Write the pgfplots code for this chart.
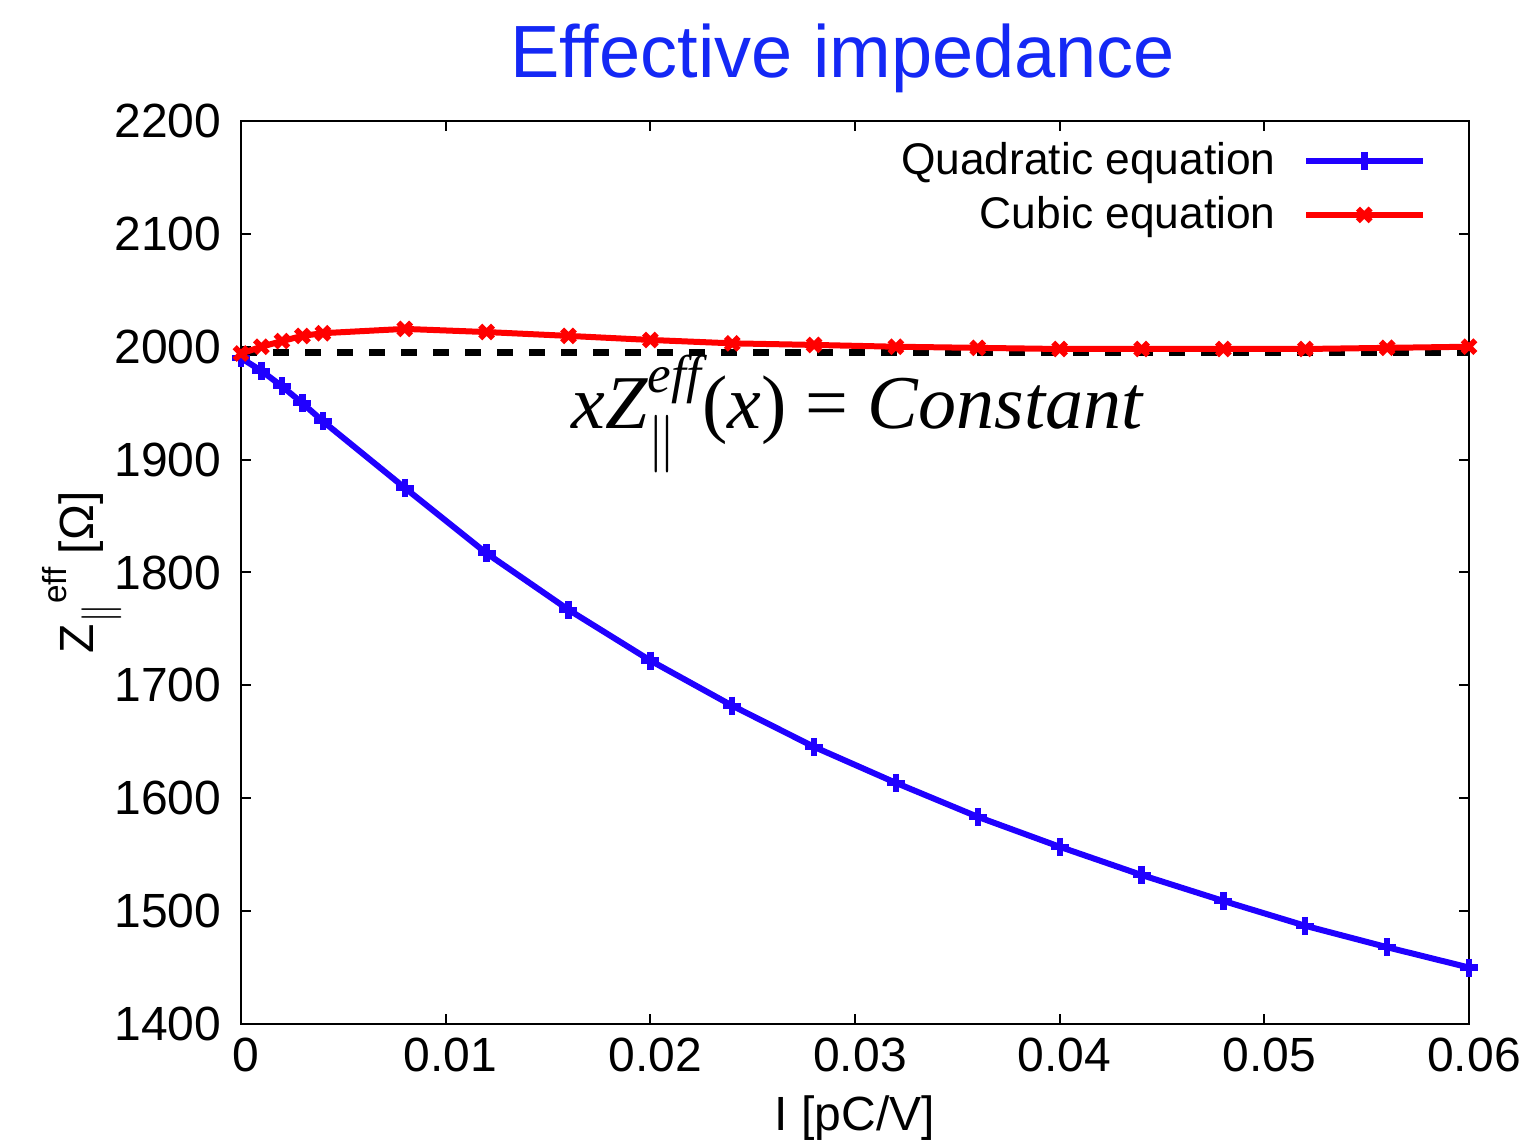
\documentclass[border=0pt]{standalone}
\usepackage{fontspec}
\setmainfont{Liberation Sans}
\newfontfamily\tms{Liberation Serif}
\usepackage{amsmath}
\usepackage{pgfplots}
\pgfplotsset{compat=1.18}

\definecolor{gpblue}{RGB}{32,0,255}
\definecolor{gpred}{RGB}{255,0,0}
\definecolor{titleblue}{RGB}{20,40,245}

% Effective impedance vs. I, from the two fits
\pgfplotstableread{
x      z
0      1990
0.001  1978.6
0.002  1965
0.003  1950
0.004  1934
0.008  1875
0.012  1817
0.016  1767
0.020  1722
0.024  1682
0.028  1645.5
0.032  1613.6
0.036  1583.5
0.040  1557
0.044  1532
0.048  1509
0.052  1487
0.056  1468
0.060  1450
}\quadratic

\pgfplotstableread{
x      z
0      1994
0.001  2000
0.002  2005
0.003  2009.6
0.004  2012
0.008  2015.8
0.012  2013
0.016  2009.6
0.020  2006
0.024  2003
0.028  2001.6
0.032  2000
0.036  1999
0.040  1998
0.044  1998
0.048  1998
0.052  1998
0.056  1999
0.060  2000
}\cubic

\begin{document}
\begin{tikzpicture}
\useasboundingbox (0,0) rectangle (457.8pt,344.1pt);
\begin{axis}[
  at={(72.3pt,36.9pt)}, anchor=south west,
  scale only axis, width=368.4pt, height=270.9pt,
  xmin=0, xmax=0.06, ymin=1400, ymax=2200,
  xtick={0,0.01,0.02,0.03,0.04,0.05,0.06},
  xticklabels={0,0.01,0.02,0.03,0.04,0.05,0.06},
  scaled x ticks=false,
  ytick={1400,1500,1600,1700,1800,1900,2000,2100,2200},
  /pgf/number format/1000 sep={},
  /pgf/number format/assume math mode=true,
  tick align=inside, major tick length=3pt, minor tick num=0,
  axis line style={line width=0.8pt},
  every tick/.style={black, line width=0.6pt},
  tick label style={font=\fontsize{14.4}{16}\selectfont},
  xticklabel style={xshift=1.5pt, yshift=-0.6pt},
  yticklabel style={xshift=-2.4pt},
  clip=false,
  legend plot pos=right,
  legend cell align=right,
  legend image code/.code={\draw[mark repeat=2, mark phase=2, #1] plot coordinates {(0pt,0pt) (17.5pt,0pt) (35pt,0pt)};},
  legend style={draw=none, fill=none, at={(axis description cs:0.9734,0.992)}, anchor=north east,
    font=\fontsize{13.3}{16}\selectfont, row sep=1.1pt,
    /tikz/every odd column/.append style={column sep=6.2pt}},
]
% reference level x Z = const
\addplot[black, line width=2.1pt, dash pattern=on 4.8pt off 4.8pt, forget plot]
  coordinates {(0,1994.5) (0.06,1994.5)};
\addplot[gpblue, line width=1.8pt, mark=+, mark size=2.7pt,
  mark options={solid, line width=1.9pt}] table[x=x, y=z] {\quadratic};
\addlegendentry{Quadratic equation}
\addplot[gpred, line width=1.8pt, mark=x, mark size=2.7pt,
  mark options={solid, line width=1.7pt}] table[x=x, y=z] {\cubic};
\addlegendentry{Cubic equation}

\node[anchor=base, font=\tms\fontsize{22.8}{26}\selectfont]
  at (axis cs:0.0301,1928)
  {\itshape xZ$^{\text{\tms\itshape eff}}_{\|}$\upshape(\itshape x\upshape) = \itshape Constant};

\node[anchor=base, text=titleblue, font=\fontsize{22.2}{26}\selectfont]
  at (axis description cs:0.49,1) [yshift=12.9pt] {Effective impedance};
\node[font=\fontsize{14.4}{16}\selectfont]
  at (axis description cs:0.5,0) [yshift=-28.2pt] {I [pC/V]};
\node[rotate=90, font=\fontsize{14.4}{16}\selectfont]
  at (axis description cs:-0.1295,0.5)
  {Z\raisebox{-0.38em}{\fontsize{11.5}{12}\selectfont$\|$}\raisebox{0.55em}{\fontsize{10}{12}\selectfont eff} [Ω]};
\end{axis}
\end{tikzpicture}
\end{document}
